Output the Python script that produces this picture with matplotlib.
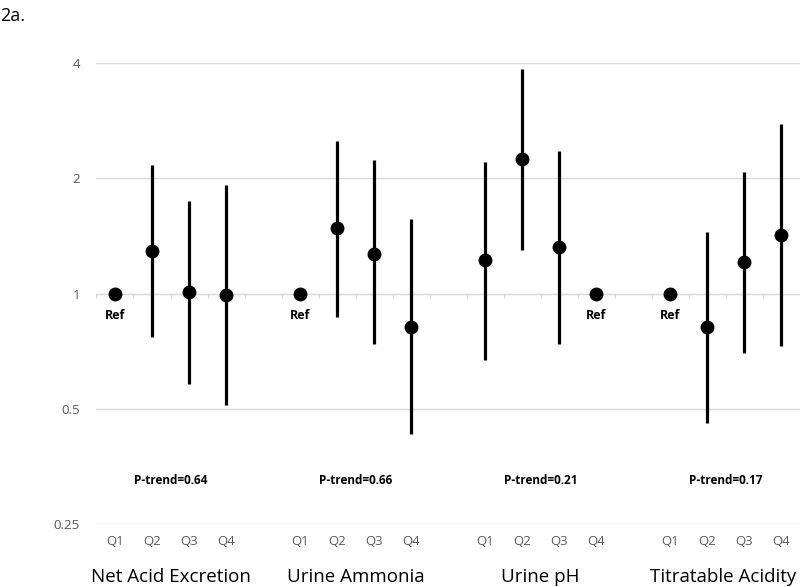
import numpy as np
import matplotlib.pyplot as plt
from matplotlib.ticker import FixedLocator, NullFormatter

# Odds ratios (log scale) by quartile, with 95% CI
groups = ["Net Acid Excretion", "Urine Ammonia", "Urine pH", "Titratable Acidity"]
quartiles = ["Q1", "Q2", "Q3", "Q4"]
p_trend = ["P-trend=0.64", "P-trend=0.66", "P-trend=0.21", "P-trend=0.17"]

nae_or = [1.0, 1.29, 1.01, 0.99]
nae_lo = [1.0, 0.77, 0.58, 0.51]
nae_hi = [1.0, 2.16, 1.74, 1.92]

amm_or = [1.0, 1.48, 1.27, 0.82]
amm_lo = [1.0, 0.87, 0.74, 0.43]
amm_hi = [1.0, 2.50, 2.23, 1.57]

ph_or = [1.22, 2.24, 1.32, 1.0]
ph_lo = [0.67, 1.30, 0.74, 1.0]
ph_hi = [2.20, 3.86, 2.35, 1.0]

ta_or = [1.0, 0.82, 1.21, 1.42]
ta_lo = [1.0, 0.46, 0.70, 0.73]
ta_hi = [1.0, 1.45, 2.08, 2.78]

# which quartile is the reference in each group
ref_idx = [0, 0, 3, 0]

series = [(nae_or, nae_lo, nae_hi), (amm_or, amm_lo, amm_hi),
          (ph_or, ph_lo, ph_hi), (ta_or, ta_lo, ta_hi)]

plt.rcParams["font.family"] = ["Open Sans", "DejaVu Sans"]

fig = plt.figure(figsize=(8, 5.87), dpi=100)
ax = fig.add_axes([0.1206, 0.1073, 0.879, 0.7853])

ax.set_yscale("log", base=2)
ax.set_ylim(0.25, 4)
ax.set_xlim(-0.5, 18.5)

for g, (orv, lo, hi) in enumerate(series):
    x = np.arange(4) + g * 5
    orv, lo, hi = np.array(orv), np.array(lo), np.array(hi)
    ax.vlines(x, lo, hi, color="black", linewidth=2.3, zorder=3)
    ax.plot(x, orv, "o", color="black", markersize=9, zorder=4)
    r = ref_idx[g]
    ax.annotate("Ref", (x[r], orv[r]), xytext=(0, -16), textcoords="offset points",
                ha="center", va="center", fontsize=9, fontweight="bold")
    ax.text(g * 5 + 1.5, 0.325, p_trend[g], ha="center", va="center",
            fontsize=8.5, fontweight="bold")
    for q in range(4):
        ax.text(x[q], 0.25 * 2 ** (-17 / 115), quartiles[q], ha="center", va="center",
                fontsize=9.5, color="#595959")
    # last label is pushed inside the right edge, as in the original
    if g == len(groups) - 1:
        lx, ha = 18.4, "right"
    else:
        lx, ha = g * 5 + 1.5, "center"
    ax.text(lx, 0.25 * 2 ** (-53 / 115), groups[g], ha=ha, va="center",
            fontsize=13.5, color="black")

# gridlines
ax.set_yticks([0.25, 0.5, 1, 2, 4])
ax.set_yticklabels(["0.25", "0.5", "1", "2", "4"])
ax.yaxis.set_minor_formatter(NullFormatter())
ax.yaxis.set_minor_locator(FixedLocator([]))
ax.grid(axis="y", color="#d9d9d9", linewidth=1)
ax.tick_params(axis="y", length=0, colors="#595959", labelsize=9.5, pad=12)

# horizontal axis crosses at 1, tick marks at category boundaries
ax.spines["bottom"].set_position(("data", 1))
ax.spines["bottom"].set_color("#d9d9d9")
ax.set_xticks(np.arange(-0.5, 19, 1))
ax.set_xticklabels([])
ax.tick_params(axis="x", length=3, color="#d9d9d9", direction="out")
for s in ["top", "right", "left"]:
    ax.spines[s].set_visible(False)

fig.text(0.0, 0.988, "2a.", fontsize=13, ha="left", va="top")

fig.savefig("out.png", dpi=100)
